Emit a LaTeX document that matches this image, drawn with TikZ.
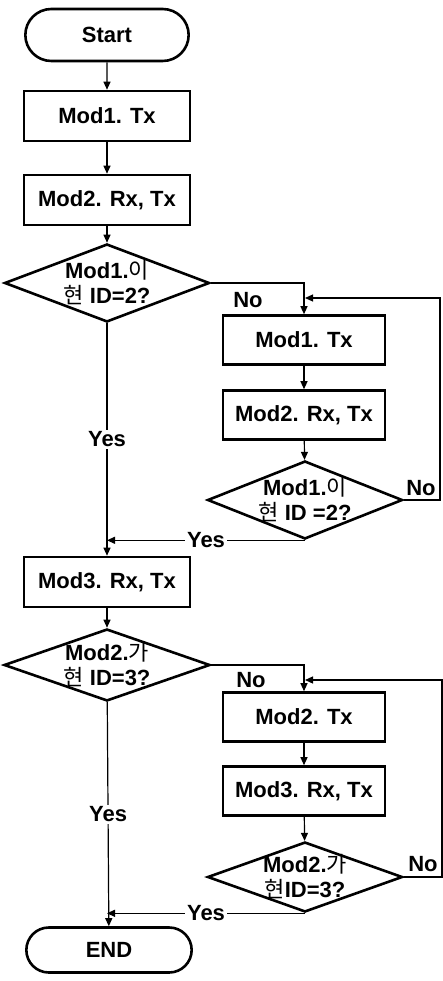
\documentclass[tikz,border=0pt]{standalone}
\usepackage{fontspec}
\setmainfont{Liberation Sans}
\newfontfamily\kr{Noto Sans CJK KR}
\usetikzlibrary{shapes.geometric, shapes.misc, arrows.meta, calc}

\begin{document}
\begin{tikzpicture}[
    x=1pt, y=-1pt,
    % Start / end style
    termbox/.style={
        rounded rectangle,
        draw=black,
        line width=2.6pt,
        minimum width=170pt,
        minimum height=52pt,
        font=\fontsize{22}{25}\selectfont\bfseries
    },
    % Process style
    procbox/.style={
        rectangle,
        draw=black,
        line width=2.6pt,
        minimum width=166pt,
        minimum height=50pt,
        inner sep=2pt,
        font=\fontsize{22}{25}\selectfont\bfseries
    },
    % Decision style (text goes in a centre label, so the shape keeps its size)
    decbox/.style={
        diamond,
        draw=black,
        line width=2.6pt,
        inner sep=0pt
    },
    dectext/.style={
        align=center,
        inner sep=0pt,
        font=\fontsize{22}{25}\selectfont\bfseries
    },
    % Arrow style
    arrow/.style={
        -{Triangle[length=8pt,width=7pt]},
        line width=1.2pt,
        black
    },
    % Yes / No label style
    lbl/.style={
        font=\fontsize{22}{25}\selectfont\bfseries,
        inner sep=2pt
    }
]
\useasboundingbox (0,0) rectangle (443,981);

% === Left column ===
\node[termbox] (start) at (107,35) {Start};
\node[procbox] (m1) at (107,116) {Mod1. Tx};
\node[procbox] (m2) at (107,200) {Mod2. Rx, Tx};
\node[decbox, minimum width=205pt, minimum height=78pt,
      label={[dectext]center:{Mod1.{\kr\mdseries 이}\\{\kr\mdseries 현} ID=2?}}] (d1) at (107,283) {};
\node[procbox] (m3) at (107,582) {Mod3. Rx, Tx};
\node[decbox, minimum width=206pt, minimum height=72pt,
      label={[dectext]center:{Mod2.{\kr\mdseries 가}\\{\kr\mdseries 현} ID=3?}}] (d2) at (107,665) {};
\node[termbox, minimum width=172pt, minimum height=45pt] (end) at (109,950) {END};

% === Right column, first loop ===
\node[procbox, minimum width=162pt, minimum height=49pt] (r1) at (304,340) {Mod1. Tx};
\node[procbox, minimum width=162pt, minimum height=49pt] (r2) at (304,415) {Mod2. Rx, Tx};
\node[decbox, minimum width=195pt, minimum height=78pt,
      label={[dectext]center:{Mod1.{\kr\mdseries 이}\\{\kr\mdseries 현} ID =2?}}] (d3) at (305,500) {};

% === Right column, second loop ===
\node[procbox, minimum width=162pt, minimum height=49pt] (r3) at (304,717) {Mod2. Tx};
\node[procbox, minimum width=162pt, minimum height=49pt] (r4) at (304,791) {Mod3. Rx, Tx};
\node[decbox, minimum width=195pt, minimum height=70pt,
      label={[dectext]center:{Mod2.{\kr\mdseries 가}\\{\kr\mdseries 현}ID=3?}}] (d4) at (305,877) {};

% === Junction points ===
\coordinate (c1) at (440,298);
\coordinate (j1) at (305,298);
\coordinate (j2) at (d3.south -| d1.south);
\coordinate (c2) at (442,680);
\coordinate (j3) at (305,680);
\coordinate (j4) at (d4.south -| d2.south);

% === Main flow ===
\draw[arrow] (start) -- (m1);
\draw[arrow] (m1) -- (m2);
\draw[arrow] (m2) -- (d1);
\draw[arrow] (d1) -- node[lbl, fill=white] {Yes} (m3);
\draw[arrow] (m3) -- (d2);
\draw[arrow] (d2) -- node[lbl, fill=white] {Yes} (end);

% === First loop ===
\draw[arrow] (d1.east) -| (r1.north);
\draw[arrow] (r1) -- (r2);
\draw[arrow] (r2) -- (d3);
\draw[arrow] (d3.east) -| (c1) -- (j1);
\draw[arrow] (d3.south) -- node[lbl, fill=white] {Yes} (j2);

% === Second loop ===
\draw[arrow] (d2.east) -| (r3.north);
\draw[arrow] (r3) -- (r4);
\draw[arrow] (r4) -- (d4);
\draw[arrow] (d4.east) -| (c2) -- (j3);
\draw[arrow] (d4.south) -- node[lbl, fill=white] {Yes} (j4);

% === No labels ===
\node[lbl] at (248,300) {No};
\node[lbl] at (421,488) {No};
\node[lbl] at (251,680) {No};
\node[lbl] at (423,864) {No};

\end{tikzpicture}
\end{document}
